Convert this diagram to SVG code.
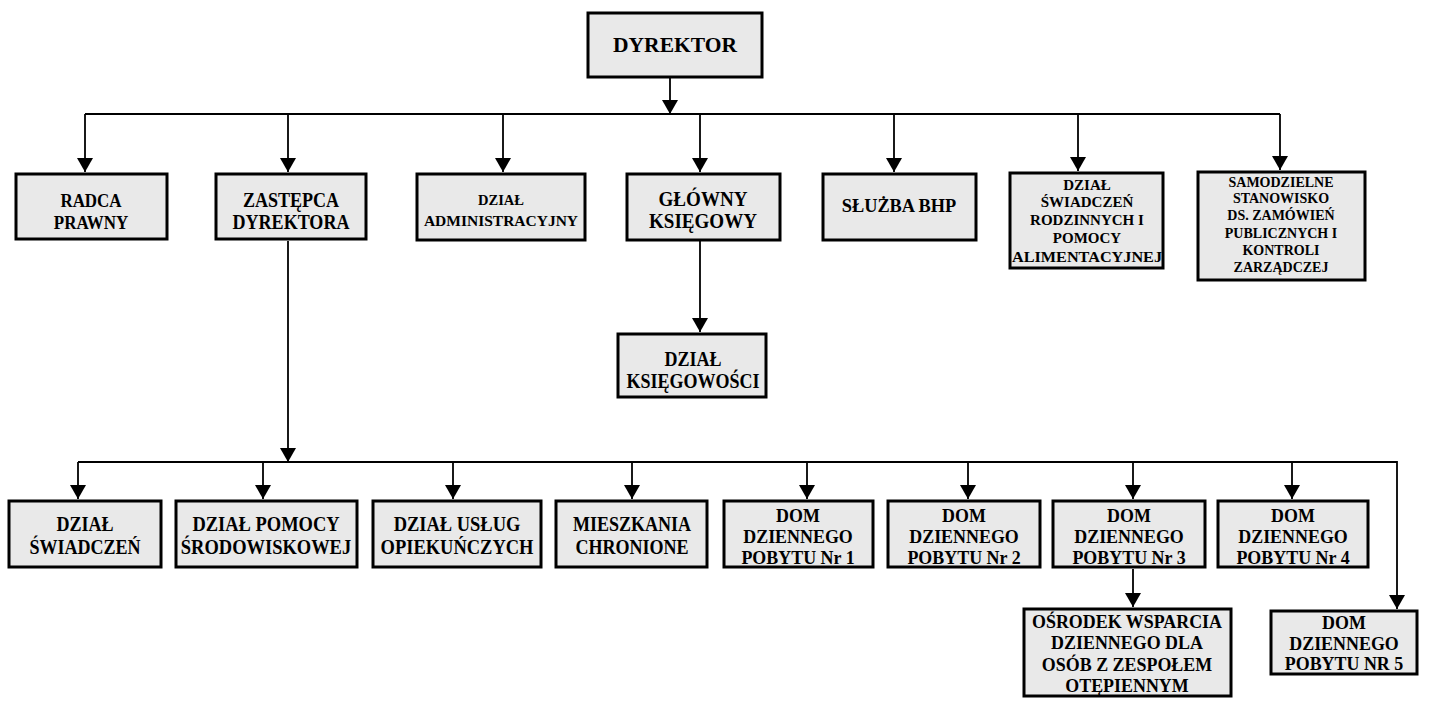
<svg xmlns="http://www.w3.org/2000/svg" width="1438" height="702" viewBox="0 0 1438 702">
<style>
.box{fill:#e9e9e9;stroke:#000;stroke-width:3}
.t{font-family:"Liberation Serif","Times New Roman",serif;font-weight:bold;fill:#000;text-anchor:middle}
.c{fill:none;stroke:#000;stroke-width:1.8}
</style>
<defs>
<marker id="ah" viewBox="0 0 14 16" refX="14" refY="8" markerWidth="14" markerHeight="16" orient="auto" markerUnits="userSpaceOnUse">
<path d="M0,0 L14,8 L0,16 z" fill="#000"/>
</marker>
</defs>
<rect width="1438" height="702" fill="#fff"/>
<g id="connectors">
<line class="c" x1="670" y1="78" x2="670" y2="114" marker-end="url(#ah)"/>
<line class="c" x1="85" y1="114" x2="1280" y2="114"/>
<line class="c" x1="85" y1="114" x2="85" y2="172" marker-end="url(#ah)"/>
<line class="c" x1="288" y1="114" x2="288" y2="172" marker-end="url(#ah)"/>
<line class="c" x1="503" y1="114" x2="503" y2="172" marker-end="url(#ah)"/>
<line class="c" x1="700" y1="114" x2="700" y2="172" marker-end="url(#ah)"/>
<line class="c" x1="894" y1="114" x2="894" y2="172" marker-end="url(#ah)"/>
<line class="c" x1="1078" y1="114" x2="1078" y2="171" marker-end="url(#ah)"/>
<line class="c" x1="1280" y1="114" x2="1280" y2="170" marker-end="url(#ah)"/>
<line class="c" x1="700" y1="241" x2="700" y2="332" marker-end="url(#ah)"/>
<line class="c" x1="288" y1="241" x2="288" y2="462" marker-end="url(#ah)"/>
<polyline class="c" points="78,462 1397,462 1397,609" marker-end="url(#ah)"/>
<line class="c" x1="78" y1="462" x2="78" y2="499" marker-end="url(#ah)"/>
<line class="c" x1="263" y1="462" x2="263" y2="499" marker-end="url(#ah)"/>
<line class="c" x1="453" y1="462" x2="453" y2="499" marker-end="url(#ah)"/>
<line class="c" x1="632" y1="462" x2="632" y2="499" marker-end="url(#ah)"/>
<line class="c" x1="807" y1="462" x2="807" y2="499" marker-end="url(#ah)"/>
<line class="c" x1="968" y1="462" x2="968" y2="499" marker-end="url(#ah)"/>
<line class="c" x1="1133" y1="462" x2="1133" y2="499" marker-end="url(#ah)"/>
<line class="c" x1="1292" y1="462" x2="1292" y2="499" marker-end="url(#ah)"/>
<line class="c" x1="1133" y1="569" x2="1133" y2="607" marker-end="url(#ah)"/>
</g>
<g id="dyrektor">
<rect class="box" x="588" y="13" width="174" height="64"/>
<text class="t" x="675" y="52" font-size="21.5">DYREKTOR</text>
</g>
<g id="radca">
<rect class="box" x="16" y="174" width="151" height="65"/>
<text class="t" font-size="19.5" transform="translate(91 0) scale(0.87 1)"><tspan x="0" y="207">RADCA</tspan><tspan x="0" y="229">PRAWNY</tspan></text>
</g>
<g id="zastepca">
<rect class="box" x="216" y="174" width="150" height="65"/>
<text class="t" font-size="20.5" transform="translate(291 0) scale(0.88 1)"><tspan x="0" y="207">ZASTĘPCA</tspan><tspan x="0" y="229">DYREKTORA</tspan></text>
</g>
<g id="administracyjny">
<rect class="box" x="417" y="174" width="168" height="66"/>
<text class="t"><tspan x="501" y="205" font-size="14.5">DZIAŁ</tspan><tspan x="501" y="226" font-size="15.5">ADMINISTRACYJNY</tspan></text>
</g>
<g id="glowny">
<rect class="box" x="627" y="174" width="153" height="66"/>
<text class="t" font-size="20.5" transform="translate(703 0) scale(0.93 1)"><tspan x="0" y="206">GŁÓWNY</tspan><tspan x="0" y="228">KSIĘGOWY</tspan></text>
</g>
<g id="bhp">
<rect class="box" x="823" y="174" width="153" height="66"/>
<text class="t" font-size="19.5" transform="translate(899 0) scale(0.94 1)" x="0" y="212">SŁUŻBA BHP</text>
</g>
<g id="swiadczen-rodzinnych">
<rect class="box" x="1010" y="173" width="153" height="95"/>
<text class="t" font-size="15"><tspan x="1087" y="190">DZIAŁ</tspan><tspan x="1087" y="207">ŚWIADCZEŃ</tspan><tspan x="1087" y="225">RODZINNYCH I</tspan><tspan x="1087" y="243">POMOCY</tspan><tspan x="1087" y="262" textLength="150" lengthAdjust="spacingAndGlyphs">ALIMENTACYJNEJ</tspan></text>
</g>
<g id="samodzielne">
<rect class="box" x="1198" y="172" width="167" height="108"/>
<text class="t" font-size="14"><tspan x="1281" y="187">SAMODZIELNE</tspan><tspan x="1281" y="203">STANOWISKO</tspan><tspan x="1281" y="220">DS. ZAMÓWIEŃ</tspan><tspan x="1281" y="238">PUBLICZNYCH I</tspan><tspan x="1281" y="255">KONTROLI</tspan><tspan x="1281" y="272">ZARZĄDCZEJ</tspan></text>
</g>
<g id="ksiegowosci">
<rect class="box" x="618" y="334" width="148" height="63"/>
<text class="t" font-size="20" transform="translate(693 0) scale(0.9 1)"><tspan x="0" y="366">DZIAŁ</tspan><tspan x="0" y="388">KSIĘGOWOŚCI</tspan></text>
</g>
<g id="swiadczen">
<rect class="box" x="9" y="501" width="152" height="66"/>
<text class="t" font-size="20.5" transform="translate(85 0) scale(0.88 1)"><tspan x="0" y="531">DZIAŁ</tspan><tspan x="0" y="554">ŚWIADCZEŃ</tspan></text>
</g>
<g id="pomocy">
<rect class="box" x="176" y="501" width="181" height="66"/>
<text class="t" font-size="21" transform="translate(266 0) scale(0.88 1)"><tspan x="0" y="531">DZIAŁ POMOCY</tspan><tspan x="0" y="554">ŚRODOWISKOWEJ</tspan></text>
</g>
<g id="uslug">
<rect class="box" x="373" y="501" width="168" height="66"/>
<text class="t" font-size="21" transform="translate(457 0) scale(0.88 1)"><tspan x="0" y="531">DZIAŁ USŁUG</tspan><tspan x="0" y="554">OPIEKUŃCZYCH</tspan></text>
</g>
<g id="mieszkania">
<rect class="box" x="556" y="501" width="151" height="66"/>
<text class="t" font-size="20.5" transform="translate(632 0) scale(0.88 1)"><tspan x="0" y="531">MIESZKANIA</tspan><tspan x="0" y="554">CHRONIONE</tspan></text>
</g>
<g id="dom1">
<rect class="box" x="724" y="501" width="149" height="66"/>
<text class="t" font-size="19.5" transform="translate(798 0) scale(0.92 1)"><tspan x="0" y="522">DOM</tspan><tspan x="0" y="543">DZIENNEGO</tspan><tspan x="0" y="564">POBYTU Nr 1</tspan></text>
</g>
<g id="dom2">
<rect class="box" x="888" y="501" width="152" height="66"/>
<text class="t" font-size="19.5" transform="translate(964 0) scale(0.92 1)"><tspan x="0" y="522">DOM</tspan><tspan x="0" y="543">DZIENNEGO</tspan><tspan x="0" y="564">POBYTU Nr 2</tspan></text>
</g>
<g id="dom3">
<rect class="box" x="1053" y="501" width="152" height="66"/>
<text class="t" font-size="19.5" transform="translate(1129 0) scale(0.92 1)"><tspan x="0" y="522">DOM</tspan><tspan x="0" y="543">DZIENNEGO</tspan><tspan x="0" y="564">POBYTU Nr 3</tspan></text>
</g>
<g id="dom4">
<rect class="box" x="1218" y="501" width="150" height="66"/>
<text class="t" font-size="19.5" transform="translate(1293 0) scale(0.92 1)"><tspan x="0" y="522">DOM</tspan><tspan x="0" y="543">DZIENNEGO</tspan><tspan x="0" y="564">POBYTU Nr 4</tspan></text>
</g>
<g id="osrodek">
<rect class="box" x="1024" y="609" width="207" height="87"/>
<text class="t" font-size="19.5" transform="translate(1127 0) scale(0.92 1)"><tspan x="0" y="628">OŚRODEK WSPARCIA</tspan><tspan x="0" y="649">DZIENNEGO DLA</tspan><tspan x="0" y="671">OSÓB Z ZESPOŁEM</tspan><tspan x="0" y="692">OTĘPIENNYM</tspan></text>
</g>
<g id="dom5">
<rect class="box" x="1271" y="611" width="146" height="63"/>
<text class="t" font-size="19.5" transform="translate(1344 0) scale(0.92 1)"><tspan x="0" y="629">DOM</tspan><tspan x="0" y="650">DZIENNEGO</tspan><tspan x="0" y="670">POBYTU NR 5</tspan></text>
</g>
</svg>
